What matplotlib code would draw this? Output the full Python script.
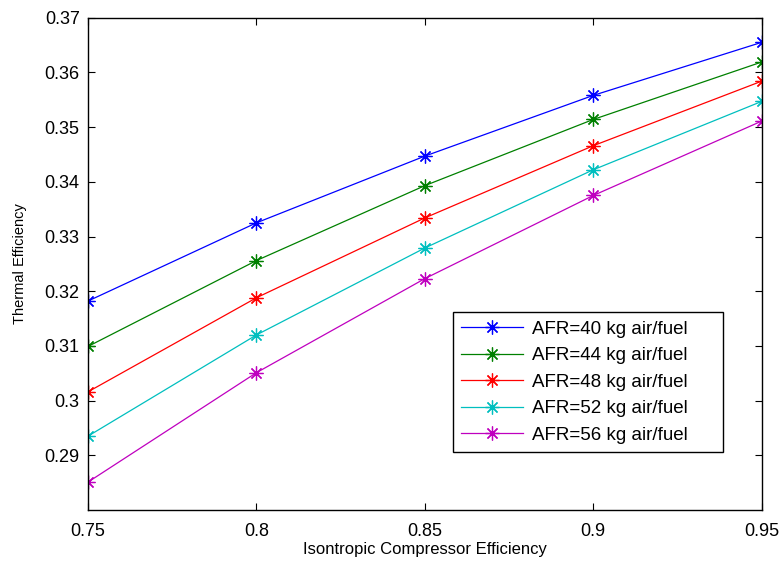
import matplotlib
matplotlib.use('Agg')
import matplotlib.pyplot as plt

plt.rcParams['font.family'] = ['Liberation Sans', 'DejaVu Sans']

# Isentropic compressor efficiency
eta_c = [0.75, 0.80, 0.85, 0.90, 0.95]

# thermal efficiency for each air/fuel ratio
afr40 = [0.3182, 0.3325, 0.3447, 0.3558, 0.3655]
afr44 = [0.3099, 0.3256, 0.3393, 0.3514, 0.3619]
afr48 = [0.3016, 0.3188, 0.3334, 0.3466, 0.3584]
afr52 = [0.2935, 0.3120, 0.3279, 0.3422, 0.3547]
afr56 = [0.2851, 0.3051, 0.3223, 0.3375, 0.3511]

labels = ['AFR=40 kg air/fuel', 'AFR=44 kg air/fuel', 'AFR=48 kg air/fuel',
          'AFR=52 kg air/fuel', 'AFR=56 kg air/fuel']
colors = ['#0000ff', '#008000', '#ff0000', '#00bfbf', '#bf00bf']

fig = plt.figure(figsize=(7.82, 5.61), dpi=100)
ax = fig.add_axes([0.1125, 0.0909, 0.8615, 0.8775])

# matlab style '*' marker -> 8 armed asterisk
for y, lab, c in zip([afr40, afr44, afr48, afr52, afr56], labels, colors):
    ax.plot(eta_c, y, '-', marker=(8, 2, 0), color=c, lw=0.9,
            markersize=10, markeredgewidth=0.9, label=lab + '     ')

ax.set_xlim(0.75, 0.95)
ax.set_ylim(0.28, 0.37)
ax.set_xticks([0.75, 0.8, 0.85, 0.9, 0.95])
ax.set_xticklabels(['0.75', '0.8', '0.85', '0.9', '0.95'])
ax.set_yticks([0.29, 0.30, 0.31, 0.32, 0.33, 0.34, 0.35, 0.36, 0.37])
ax.set_yticklabels(['0.29', '0.3', '0.31', '0.32', '0.33', '0.34', '0.35', '0.36', '0.37'])
ax.tick_params(direction='in', top=True, right=True, length=5, width=0.8,
               labelsize=13)
ax.tick_params(axis='x', pad=9)
ax.tick_params(axis='y', pad=6)
for s in ax.spines.values():
    s.set_linewidth(1.0)

ax.set_xlabel('Isontropic Compressor Efficiency', fontsize=12)
ax.xaxis.set_label_coords(0.5, -0.065)
ax.set_ylabel('Thermal Efficiency', fontsize=10.5)
ax.yaxis.set_label_coords(-0.09, 0.5)

leg = ax.legend(loc='upper left', bbox_to_anchor=(0.5415, 0.402), borderaxespad=0,
                fontsize=13.5, handlelength=3.3, handletextpad=0.5, fancybox=False,
                framealpha=1, edgecolor='black', labelspacing=0.5, borderpad=0.45)
leg.get_frame().set_linewidth(1.0)

plt.savefig('out.png', dpi=100)
